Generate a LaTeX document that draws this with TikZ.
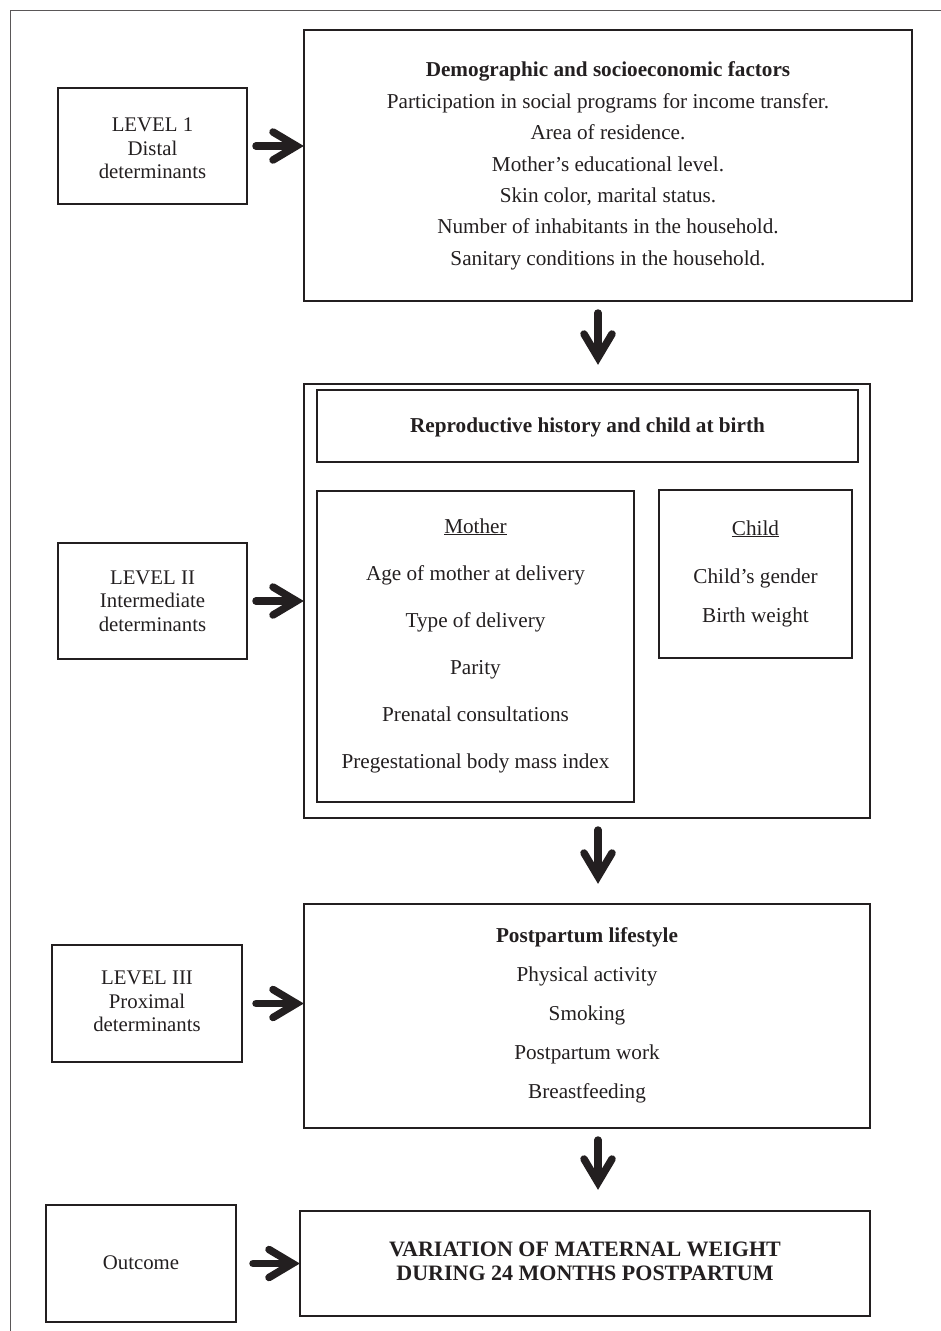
\documentclass[tikz,border=0pt]{standalone}
\usepackage{fontspec}
\setmainfont{Liberation Serif}
\usetikzlibrary{calc}
\definecolor{ink}{HTML}{231F20}
\newcommand{\myharrow}[2]{%
  \draw[shaft] (#1) -- ($(#2)+(-9,0)$);
  \draw[barb] ($(#2)+(-31,-14)$) -- ($(#2)+(-7.5,0)$) -- ($(#2)+(-31,14)$);}
\newcommand{\myvarrow}[2]{%
  \draw[shaft] (#1) -- ($(#2)+(0,-9)$);
  \draw[barb] ($(#2)+(-14,-31)$) -- ($(#2)+(0,-7.5)$) -- ($(#2)+(14,-31)$);}
\begin{document}
\begin{tikzpicture}[x=1pt,y=-1pt,
  box/.style={draw=ink, line width=2.2pt, inner sep=0pt, outer sep=0pt},
  txt/.style={text=ink, align=center, inner sep=0pt, font=\fontsize{21.2}{23.3}\selectfont},
  shaft/.style={draw=ink, line width=7.5pt, line cap=round},
  barb/.style={draw=ink, line width=7.5pt, line cap=round, line join=miter},
]
\useasboundingbox (0,0) rectangle (941,1331);
\draw[ink!75, line width=1.2pt] (10.5,1331) -- (10.5,10.5) -- (941,10.5);

% boxes
\node[box, minimum width=189pt, minimum height=116pt] (l1) at (152.5,146) {};
\node[box, minimum width=608pt, minimum height=271pt] (b1) at (608,165.5) {};
\node[box, minimum width=566pt, minimum height=434pt] (b2) at (587,601) {};
\node[box, minimum width=541pt, minimum height=72pt] (hdr) at (587.5,426) {};
\node[box, minimum width=317pt, minimum height=311pt] (mom) at (475.5,646.5) {};
\node[box, minimum width=193pt, minimum height=168pt] (chd) at (755.5,574) {};
\node[box, minimum width=189pt, minimum height=116pt] (l2) at (152.5,601) {};
\node[box, minimum width=566pt, minimum height=224pt] (b3) at (587,1016) {};
\node[box, minimum width=190pt, minimum height=117pt] (l3) at (147,1003.5) {};
\node[box, minimum width=190pt, minimum height=117pt] (out) at (141,1263.5) {};
\node[box, minimum width=570pt, minimum height=105pt] (fin) at (585,1263.5) {};

% texts
\node[txt, font=\fontsize{20.8}{23.3}\selectfont] (l1t) at (152.5,148.5) {LEVEL 1\\Distal\\determinants};
\node[txt, font=\fontsize{21.2}{31.4}\selectfont] (b1t) at (608,166) {\textbf{Demographic and socioeconomic factors}\\
Participation in social programs for income transfer.\\
Area of residence.\\
Mother’s educational level.\\
Skin color, marital status.\\
Number of inhabitants in the household.\\
Sanitary conditions in the household.};
\node[txt] (hdrt) at (587.5,427) {\textbf{Reproductive history and child at birth}};
\node[txt, font=\fontsize{21.2}{47}\selectfont] (momt) at (475.5,645.5) {\underline{Mother}\\
Age of mother at delivery\\
Type of delivery\\
Parity\\
Prenatal consultations\\
Pregestational body mass index};
\node[txt, font=\fontsize{21.2}{38.5}\selectfont] (chdt) at (755.5,573.5) {\underline{Child}\\[10pt]
Child’s gender\\
Birth weight};
\node[txt, font=\fontsize{20.8}{23.3}\selectfont] (l2t) at (152.5,601) {LEVEL II\\Intermediate\\determinants};
\node[txt, font=\fontsize{21.2}{39}\selectfont] (b3t) at (587,1015) {\textbf{Postpartum lifestyle}\\
Physical activity\\
Smoking\\
Postpartum work\\
Breastfeeding};
\node[txt, font=\fontsize{20.8}{23.3}\selectfont] (l3t) at (147,1001.5) {LEVEL III\\Proximal\\determinants};
\node[txt, font=\fontsize{20.8}{23.3}\selectfont] (outt) at (141,1263) {Outcome};
\node[txt, font=\fontsize{22}{23.5}\selectfont] (fint) at (585,1261.5) {\textbf{VARIATION OF MATERNAL WEIGHT}\\\textbf{DURING 24 MONTHS POSTPARTUM}};

% arrows
\coordinate (ax) at (598,0);
\coordinate (h1s) at ($(l1.east)+(9,0)$);
\coordinate (h1e) at (l1.east -| b1.west);
\myharrow{h1s}{h1e}
\coordinate (h2s) at ($(l2.east)+(9,0)$);
\coordinate (h2e) at (l2.east -| b2.west);
\myharrow{h2s}{h2e}
\coordinate (h3s) at ($(l3.east)+(14,0)$);
\coordinate (h3e) at (l3.east -| b3.west);
\myharrow{h3s}{h3e}
\coordinate (h4s) at ($(out.east)+(17,0)$);
\coordinate (h4e) at (out.east -| fin.west);
\myharrow{h4s}{h4e}
\coordinate (v1s) at ($(b1.south -| ax)+(0,12)$);
\coordinate (v1e) at ($(b2.north -| ax)+(0,-19)$);
\myvarrow{v1s}{v1e}
\coordinate (v2s) at ($(b2.south -| ax)+(0,12)$);
\coordinate (v2e) at ($(b3.north -| ax)+(0,-20)$);
\myvarrow{v2s}{v2e}
\coordinate (v3s) at ($(b3.south -| ax)+(0,12)$);
\coordinate (v3e) at ($(fin.north -| ax)+(0,-21)$);
\myvarrow{v3s}{v3e}
\end{tikzpicture}
\end{document}
